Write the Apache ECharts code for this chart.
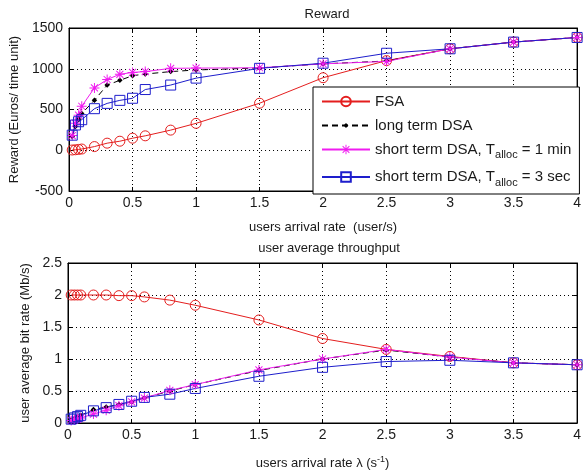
<!DOCTYPE html>
<html>
<head>
<meta charset="utf-8">
<script src="https://cdn.jsdelivr.net/npm/echarts@6/dist/echarts.min.js"></script>
<style>html,body{margin:0;padding:0;background:#fff;}#c{width:584px;height:476px;}</style>
</head>
<body>
<div id="c"></div>
<script>
// ---- data ----
const arrivalRate = [0.025, 0.05, 0.075, 0.1, 0.2, 0.3, 0.4, 0.5, 0.6, 0.8, 1, 1.5, 2, 2.5, 3, 3.5, 4];
const rewardFSA      = [3, 6, 10, 15, 45, 87, 111, 148, 177, 247, 330, 577, 890, 1100, 1245, 1327, 1384];
const rewardLongDSA  = [170, 290, 380, 450, 614, 800, 858, 915, 935, 965, 985, 1010, 1060, 1095, 1245, 1327, 1384];
const rewardShort1m  = [180, 330, 430, 540, 765, 868, 932, 955, 965, 1005, 1008, 1012, 1060, 1090, 1245, 1327, 1384];
const rewardShort3s  = [185, 310, 350, 375, 510, 575, 612, 638, 745, 800, 885, 1005, 1068, 1190, 1245, 1327, 1384];
const rateFSA        = [2.0, 2.0, 2.0, 2.0, 2.0, 2.0, 1.99, 1.99, 1.97, 1.92, 1.84, 1.61, 1.32, 1.15, 1.04, 0.94, 0.91];
const rateLongDSA    = [0.05, 0.07, 0.1, 0.12, 0.21, 0.25, 0.29, 0.33, 0.39, 0.5, 0.6, 0.82, 1.0, 1.14, 1.03, 0.94, 0.91];
const rateShort1m    = [0.04, 0.05, 0.07, 0.08, 0.14, 0.2, 0.27, 0.33, 0.39, 0.51, 0.6, 0.83, 1.0, 1.15, 1.03, 0.94, 0.91];
const rateShort3s    = [0.06, 0.08, 0.1, 0.12, 0.19, 0.24, 0.29, 0.34, 0.4, 0.45, 0.54, 0.73, 0.87, 0.96, 0.98, 0.94, 0.91];
const seriesNames = ['FSA', 'long term DSA', 'short term DSA, Talloc = 1 min', 'short term DSA, Talloc = 3 sec'];
const xTicks = {min: 0, max: 4, interval: 0.5};
const yTicksTop = {min: -500, max: 1500, interval: 500};
const yTicksBottom = {min: 0, max: 2.5, interval: 0.5};

// ---- styles ----
const FONT = "'Liberation Sans', Arial, sans-serif";
const TXT = '#1a1a1a';
const colors = ['#e41e1e', '#000000', '#f01cf0', '#1e1ecc'];
const asterisk = 'path://M9,0 L11,0 L11,20 L9,20 Z M0,9 L20,9 L20,11 L0,11 Z M3.7,2.3 L17.7,16.3 L16.3,17.7 L2.3,3.7 Z M17.7,3.7 L3.7,17.7 L2.3,16.3 L16.3,2.3 Z';
const smallDot = 'path://M0,0 L0.01,0 L0,0.01 Z M12,12 L11.99,12 L12,11.99 Z M6,3 L9,6 L6,9 L3,6 Z';
const symbols = [
  {symbol: 'circle', symbolSize: 10},
  {symbol: smallDot, symbolSize: 11},
  {symbol: asterisk, symbolSize: 10},
  {symbol: 'rect', symbolSize: 10}
];

function pairs(xs, ys) { return xs.map((x, i) => [x, ys[i]]); }

const grids = [
  {left: 68, top: 28, width: 511, height: 163},
  {left: 68, top: 263, width: 511, height: 160}
];

const tickStyle = {inside: true, length: 4, lineStyle: {color: '#000'}};
const splitStyle = {show: true, lineStyle: {color: '#000', type: [1, 3], width: 1}};
const labelStyle = {color: TXT, fontFamily: FONT, fontSize: 14, formatter: v => String(v)};

function xAx(gi, name, gap, rich) {
  return [{
    type: 'value', gridIndex: gi, ...xTicks, position: 'bottom',
    axisLine: {show: true, onZero: false, lineStyle: {color: '#000'}},
    axisTick: tickStyle, splitLine: splitStyle,
    axisLabel: {...labelStyle, margin: 5},
    name: name, nameLocation: 'middle', nameGap: gap,
    nameTextStyle: {color: TXT, fontFamily: FONT, fontSize: 13, rich: rich}
  }, {
    type: 'value', gridIndex: gi, ...xTicks, position: 'top',
    axisLine: {show: true, onZero: false, lineStyle: {color: '#000'}},
    axisTick: tickStyle, splitLine: {show: false}, axisLabel: {show: false}
  }];
}
function yAx(gi, ticks, name, gap) {
  return [{
    type: 'value', gridIndex: gi, ...ticks, position: 'left',
    axisLine: {show: true, onZero: false, lineStyle: {color: '#000'}},
    axisTick: tickStyle, splitLine: splitStyle,
    axisLabel: {...labelStyle, margin: 6},
    name: name, nameLocation: 'middle', nameGap: gap, nameRotate: 90,
    nameTextStyle: {color: TXT, fontFamily: FONT, fontSize: 13}
  }, {
    type: 'value', gridIndex: gi, ...ticks, position: 'right',
    axisLine: {show: true, onZero: false, lineStyle: {color: '#000'}},
    axisTick: tickStyle, splitLine: {show: false}, axisLabel: {show: false}
  }];
}

const supRich = {
  n: {fontFamily: FONT, fontSize: 13, color: TXT},
  sup: {fontFamily: FONT, fontSize: 9, color: TXT, padding: [0, 0, 8, 0]}
};

const xAxes = [...xAx(0, 'users arrival rate  (user/s)', 30, null),
               ...xAx(1, '{n|users arrival rate λ (s}{sup|-1}{n|)}', 32, supRich)];
const yAxes = [...yAx(0, yTicksTop, 'Reward (Euros/ time unit)', 44),
               ...yAx(1, yTicksBottom, 'user average bit rate (Mb/s)', 30)];

const topData = [rewardFSA, rewardLongDSA, rewardShort1m, rewardShort3s];
const botData = [rateFSA, rateLongDSA, rateShort1m, rateShort3s];

const series = [];
[topData, botData].forEach((set, gi) => {
  set.forEach((ys, k) => {
    const empty = k === 0 || k === 3;
    series.push({
      type: 'line', name: seriesNames[k],
      xAxisIndex: gi * 2, yAxisIndex: gi * 2,
      data: pairs(arrivalRate, ys),
      symbol: symbols[k].symbol, symbolSize: symbols[k].symbolSize,
      showAllSymbol: true, animation: false,
      lineStyle: {color: colors[k], width: 1, type: k === 1 ? [6, 4] : 'solid'},
      itemStyle: empty
        ? {color: 'rgba(255,255,255,0)', borderColor: colors[k], borderWidth: 1, borderType: 'solid'}
        : {color: colors[k], borderWidth: 0},
      emphasis: {disabled: true}
    });
  });
});

const chart = echarts.init(document.getElementById('c'), null, {renderer: 'canvas'});
chart.setOption({
  animation: false,
  backgroundColor: '#fff',
  title: [
    {text: 'Reward', left: 322, top: 3, textAlign: 'center',
     textStyle: {fontFamily: FONT, fontSize: 13, fontWeight: 'normal', color: TXT}},
    {text: 'user average throughput', left: 324, top: 237, textAlign: 'center',
     textStyle: {fontFamily: FONT, fontSize: 13, fontWeight: 'normal', color: TXT}}
  ],
  grid: grids.map(g => ({...g, show: true, borderColor: '#000', borderWidth: 1, backgroundColor: '#fff'})),
  xAxis: xAxes,
  yAxis: yAxes,
  legend: {
    data: seriesNames, orient: 'vertical', left: 313, top: 87,
    backgroundColor: '#fff', borderColor: '#000', borderWidth: 1,
    padding: [7, 8, 6, 8], itemGap: 9, itemWidth: 48, itemHeight: 12,
    selectedMode: false,
    textStyle: {fontFamily: FONT, fontSize: 15, color: TXT,
      rich: {
        n: {fontFamily: FONT, fontSize: 15, color: TXT},
        sub: {fontFamily: FONT, fontSize: 11, color: TXT, padding: [11, 0, 0, 0]}
      }},
    formatter: function (name) {
      if (name.indexOf('Talloc') >= 0) {
        const parts = name.split('Talloc');
        return '{n|' + parts[0] + 'T}{sub|alloc}{n|' + parts[1] + '}';
      }
      return name;
    }
  },
  series: series
});
</script>
</body>
</html>
